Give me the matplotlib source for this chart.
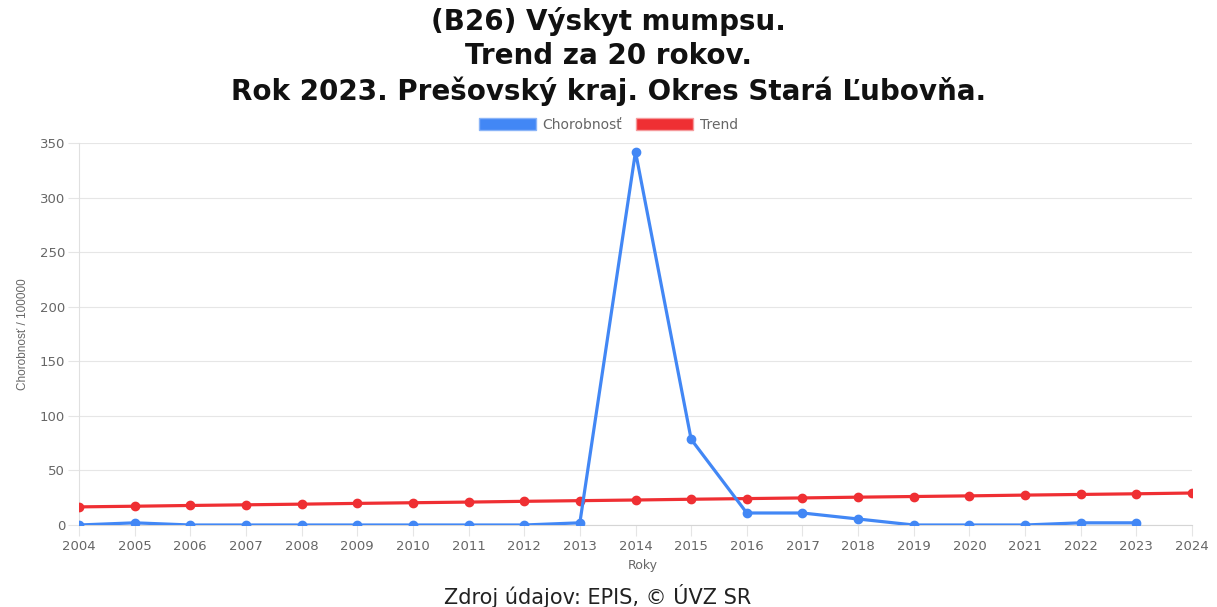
import matplotlib.pyplot as plt
from matplotlib.patches import Patch

# Data
years = list(range(2004, 2025))
chorobnost_years = list(range(2004, 2024))
chorobnost = [0, 2, 0, 0, 0, 0, 0, 0, 0, 2, 342, 78.5, 11, 11, 5.5, 0, 0, 0, 2, 2]
trend = [16.6, 17.2, 17.9, 18.5, 19.1, 19.8, 20.4, 21.0, 21.7, 22.3, 22.9,
         23.6, 24.2, 24.8, 25.5, 26.1, 26.7, 27.4, 28.0, 28.6, 29.3]
y_ticks = [0, 50, 100, 150, 200, 250, 300, 350]

blue = '#4287f5'
red = '#ef2f33'
gray = '#666666'

# the reference is a bit stretched sideways, DejaVu is the wider face
plt.rcParams['font.family'] = ['DejaVu Sans']

fig = plt.figure(figsize=(12.17, 6.07), dpi=100)
ax = fig.add_axes([79 / 1217, 1 - 525 / 607, (1192 - 79) / 1217, (525 - 143) / 607])

ax.plot(years, trend, color=red, lw=2.3, marker='o', ms=6, zorder=3)
ax.plot(chorobnost_years, chorobnost, color=blue, lw=2.3, marker='o', ms=6, zorder=4)

ax.set_xlim(2004, 2024)
ax.set_ylim(0, 350)
ax.set_xticks(years)
ax.set_yticks(y_ticks)
ax.tick_params(colors=gray, labelsize=9.5, length=8, width=0.8)
ax.tick_params(axis='x', pad=3, color='#e5e5e5')
ax.tick_params(axis='y', pad=2, color='#e5e5e5')
ax.grid(axis='y', color='#e6e6e6', lw=0.8)
ax.set_axisbelow(True)
for s in ['top', 'right']:
    ax.spines[s].set_visible(False)
ax.spines['left'].set_color('#e0e0e0')
ax.spines['bottom'].set_color('#d5d5d5')

ax.set_ylabel('Chorobnosť / 100000', color=gray, fontsize=8.5, labelpad=8,
              family=['Liberation Sans', 'DejaVu Sans'])
ax.set_xlabel('Roky', color=gray, fontsize=9, labelpad=6)
ax.xaxis.set_label_coords((643 - 79) / (1192 - 79), -0.09)

fig.text(0.5, 1 - 22 / 607, '(B26) Výskyt mumpsu.', ha='center', va='center',
         fontsize=20, fontweight='bold', color='#111111')
fig.text(0.5, 1 - 56 / 607, 'Trend za 20 rokov.', ha='center', va='center',
         fontsize=20, fontweight='bold', color='#111111')
fig.text(0.5, 1 - 91 / 607, 'Rok 2023. Prešovský kraj. Okres Stará Ľubovňa.', ha='center',
         va='center', fontsize=20, fontweight='bold', color='#111111')

handles = [Patch(facecolor=blue, edgecolor='#8ab4f8'), Patch(facecolor=red, edgecolor='#f59a9c')]
fig.legend(handles, ['Chorobnosť', 'Trend'], loc='center', bbox_to_anchor=(0.5, 1 - 125 / 607),
           ncol=2, frameon=False, fontsize=10, labelcolor=gray, handlelength=4.1,
           handleheight=1.0, handletextpad=0.5, columnspacing=1.0)

fig.text(598 / 1217, 1 - 596 / 607, 'Zdroj údajov: EPIS, © ÚVZ SR', ha='center', va='center',
         fontsize=15, color='#222222')

fig.savefig('out.png', dpi=100)
